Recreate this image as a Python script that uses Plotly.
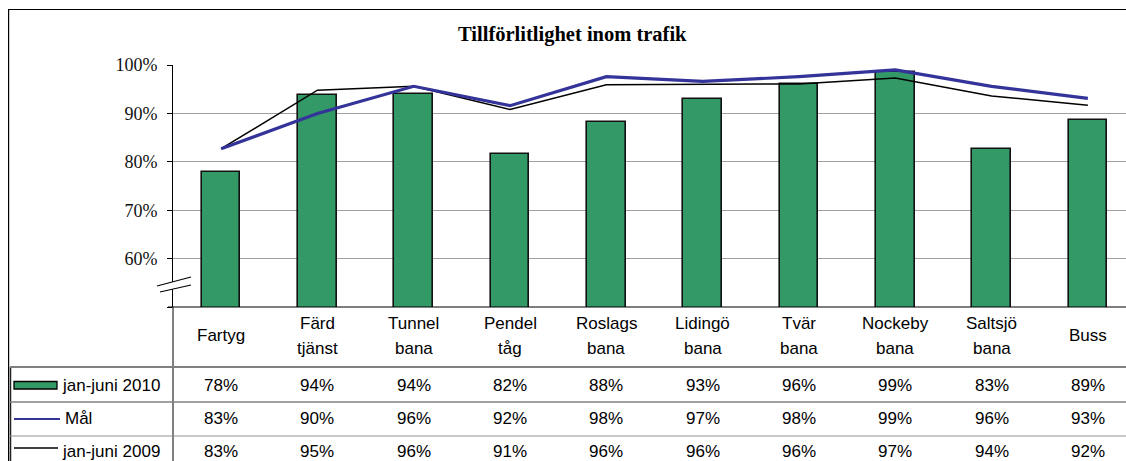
import plotly.graph_objects as go

# ---- data ----
categories = ["Fartyg", "Färd\ntjänst", "Tunnel\nbana", "Pendel\ntåg", "Roslags\nbana",
              "Lidingö\nbana", "Tvär\nbana", "Nockeby\nbana", "Saltsjö\nbana", "Buss"]
series_names = ["jan-juni 2010", "Mål", "jan-juni 2009"]
vals_2010 = [77.8, 93.7, 94.1, 81.6, 88.2, 93.0, 96.1, 98.6, 82.6, 88.6]
vals_mal = [82.7, 90.0, 95.6, 91.6, 97.6, 96.6, 97.6, 99.0, 95.6, 93.1]
vals_2009 = [82.7, 94.8, 95.6, 90.8, 95.9, 96.0, 96.1, 97.3, 93.6, 91.7]
y_ticks = [50, 60, 70, 80, 90, 100]
y_ticklabels = ["", "60%", "70%", "80%", "90%", "100%"]
title_text = "Tillförlitlighet inom trafik"

# ---- layout constants (page pixels) ----
W, H = 1126, 461
PL, PR = 173, 1126
PT, PB = 65, 307
GREEN = "#339966"
BLUE = "#333399"
SANS = "Liberation Sans, Arial, sans-serif"
SERIF = "Liberation Serif, Times New Roman, serif"


def px(x):
    return (x - PL) / (PR - PL)


def py(y):
    return (PB - y) / (PB - PT)


x_idx = list(range(len(categories)))

fig = go.Figure()
fig.add_trace(go.Bar(x=x_idx, y=vals_2010, name=series_names[0], width=0.4,
                     marker=dict(color=GREEN, line=dict(color="#111111", width=1.6))))
fig.add_trace(go.Scatter(x=x_idx, y=vals_2009, name=series_names[2], mode="lines",
                         line=dict(color="#000000", width=1.5)))
fig.add_trace(go.Scatter(x=x_idx, y=vals_mal, name=series_names[1], mode="lines",
                         line=dict(color=BLUE, width=3.2)))

shapes = []
annotations = []


def hline(x0, x1, y, color="black", width=1):
    shapes.append(dict(type="line", xref="paper", yref="paper", x0=px(x0), x1=px(x1),
                       y0=py(y), y1=py(y), line=dict(color=color, width=width), layer="above"))


def vline(x, y0, y1, color="black", width=1):
    shapes.append(dict(type="line", xref="paper", yref="paper", x0=px(x), x1=px(x),
                       y0=py(y0), y1=py(y1), line=dict(color=color, width=width), layer="above"))


# outer chart border (top + left)
hline(8, 1126, 9.5, "#000000", 1.2)
vline(8.6, 9, 461, "#000000", 1.2)
# table
vline(10.5, 367, 461, "#222222", 1.5)
vline(PL, PB, 461, "#000000", 1)
hline(168, PR, PB, "#000000", 1.2)
hline(10, PR, 367, "#808080", 2)
hline(10, PR, 402, "#808080", 1.6)
hline(10, PR, 436, "#909090", 1)

# axis break mark
shapes.append(dict(type="path", xref="paper", yref="paper",
                   path="M %f,%f L %f,%f L %f,%f L %f,%f Z" % (px(157), py(286), px(191), py(277),
                                                               px(191), py(285), px(160), py(292)),
                   fillcolor="white", line=dict(width=0), layer="above"))
shapes.append(dict(type="line", xref="paper", yref="paper", x0=px(157), y0=py(286), x1=px(191), y1=py(277),
                   line=dict(color="black", width=1.2), layer="above"))
shapes.append(dict(type="line", xref="paper", yref="paper", x0=px(160), y0=py(292), x1=px(191), y1=py(285),
                   line=dict(color="black", width=1.2), layer="above"))

# legend keys in table
shapes.append(dict(type="rect", xref="paper", yref="paper", x0=px(14), x1=px(57), y0=py(381.5), y1=py(389),
                   fillcolor=GREEN, line=dict(color="black", width=1.3), layer="above"))
hline(14, 60, 419, BLUE, 2)
hline(14, 58, 448, "#000000", 1.3)

TFS = 17
row_y = [385, 418, 451]
row_label_x = [60, 63, 60]
for name, ry, lx in zip(series_names, row_y, row_label_x):
    annotations.append(dict(text=name, xref="paper", yref="paper", x=px(lx), y=py(ry),
                            xanchor="left", yanchor="middle", showarrow=False,
                            font=dict(family=SANS, size=TFS, color="black")))

for series, ry in zip([vals_2010, vals_mal, vals_2009], row_y):
    for i, v in enumerate(series):
        annotations.append(dict(text=f"{v:.0f}%", xref="x", yref="paper", x=i, y=py(ry),
                                xanchor="center", yanchor="middle", showarrow=False,
                                font=dict(family=SANS, size=TFS, color="black")))

for i, cat in enumerate(categories):
    parts = cat.split("\n")
    ys = [335.5] if len(parts) == 1 else [323, 348]
    for part, yy in zip(parts, ys):
        annotations.append(dict(text=part, xref="x", yref="paper", x=i, y=py(yy),
                                xanchor="center", yanchor="middle", showarrow=False,
                                font=dict(family=SANS, size=TFS, color="black")))

annotations.append(dict(text="<b>" + title_text + "</b>", xref="paper", yref="paper",
                        x=px(572), y=py(34), xanchor="center", yanchor="middle", showarrow=False,
                        font=dict(family=SERIF, size=20.5, color="black")))

fig.update_layout(
    width=W, height=H,
    margin=dict(l=PL, r=W - PR, t=PT, b=H - PB, pad=0),
    paper_bgcolor="white", plot_bgcolor="white",
    showlegend=False, bargap=0,
    xaxis=dict(range=[-0.5, -0.5 + (PR - PL) / 96.3], showticklabels=False, showgrid=False,
               zeroline=False, showline=False, ticks=""),
    yaxis=dict(range=[50, 100], tickvals=y_ticks, ticktext=y_ticklabels, showgrid=True,
               gridcolor="#a0a0a0", gridwidth=1, zeroline=False, showline=True,
               linecolor="black", linewidth=1, ticks="outside", ticklen=5, tickcolor="black",
               tickfont=dict(family=SERIF, size=18, color="#111111"), ticklabelstandoff=6),
    shapes=shapes, annotations=annotations,
)

fig.write_html("out.html", config={"displayModeBar": False},
               post_script=("document.body.style.margin='0';"
                            "document.body.style.overflow='hidden';"
                            "document.documentElement.style.overflow='hidden';"))
